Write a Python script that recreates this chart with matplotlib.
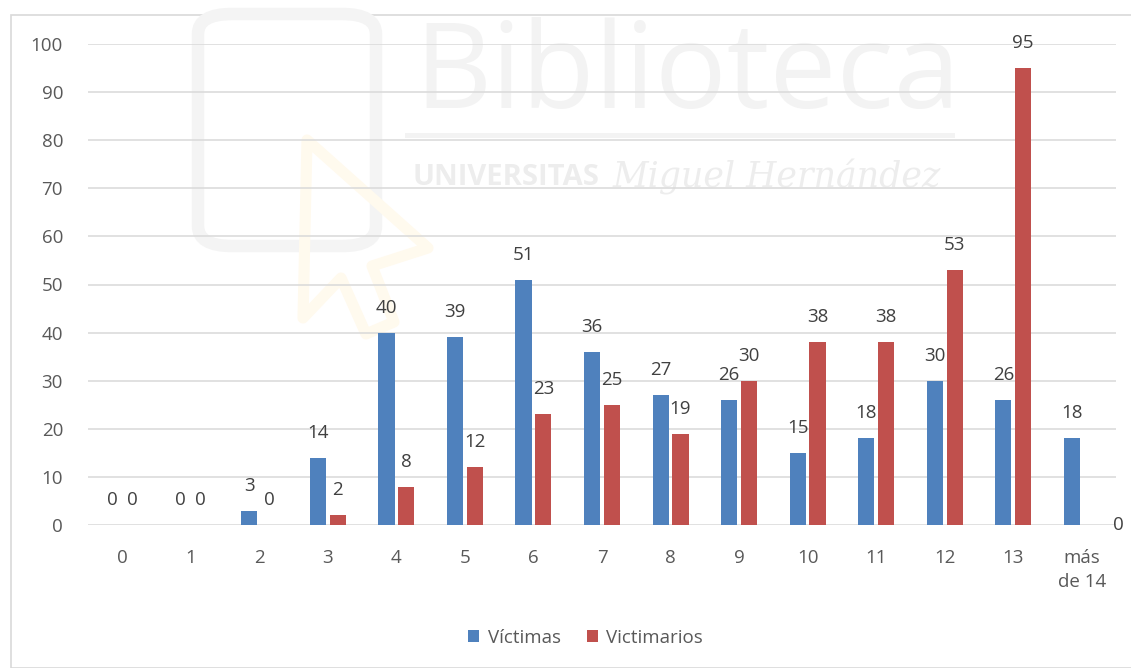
import numpy as np
import matplotlib.pyplot as plt
from matplotlib.patches import Rectangle, FancyBboxPatch, Polygon

plt.rcParams['font.family'] = ['Open Sans', 'DejaVu Sans']

categories = ['0', '1', '2', '3', '4', '5', '6', '7', '8', '9', '10', '11', '12', '13', 'más\nde 14']
victimas = [0, 0, 3, 14, 40, 39, 51, 36, 27, 26, 15, 18, 30, 26, 18]
victimarios = [0, 0, 0, 2, 8, 12, 23, 25, 19, 30, 38, 38, 53, 95, 0]

blue = '#4F81BD'
red = '#C0504D'
txt = '#404040'

W, H = 1131, 668
fig = plt.figure(figsize=(11.31, 6.68), dpi=100)
# chart frame
fig.patches.append(Rectangle((11 / W, 0.0), 1.2, 1 - 15 / H, transform=fig.transFigure,
                             fill=False, edgecolor='#D9D9D9', linewidth=1.2, zorder=0))

# faint watermark (logo of the library)
fig.patches.append(FancyBboxPatch((198 / W, 1 - 246 / H), 178 / W, 232 / H,
                                  boxstyle='round,pad=0,rounding_size=0.03',
                                  transform=fig.transFigure, fill=False,
                                  edgecolor='#F4F4F4', linewidth=9, zorder=0))
cursor = [(307, 140), (303, 318), (341, 278), (366, 334), (394, 322), (372, 266), (428, 248)]
fig.patches.append(Polygon([(px / W, 1 - py / H) for px, py in cursor],
                           closed=True, transform=fig.transFigure, fill=False,
                           edgecolor='#FFFAEE', linewidth=8, joinstyle='round', zorder=0))
fig.patches.append(Rectangle((405 / W, 1 - 138 / H), 550 / W, 5 / H, transform=fig.transFigure,
                             facecolor='#F3F3F3', edgecolor='none', zorder=0))
fig.text(0.608, 1 - 108 / H, 'Biblioteca', fontsize=86, color='#F3F3F3', ha='center',
         va='baseline', zorder=0)
fig.text(0.530, 0.735, 'UNIVERSITAS', fontsize=21, color='#EDEDED', ha='right', va='center',
         fontweight='bold', zorder=0)
fig.text(0.542, 0.735, 'Miguel Hernández', fontsize=25, color='#EDEDED', ha='left', va='center',
         family='DejaVu Serif', style='italic', zorder=0)

ax = fig.add_axes([88 / W, 1 - 525 / H, (1116 - 88) / W, (525 - 44) / H])
ax.patch.set_alpha(0)
ax.set_zorder(2)

x = np.arange(len(categories))
w = 0.235
b1 = ax.bar(x - 0.145, victimas, w, color=blue, zorder=3)
b2 = ax.bar(x + 0.145, victimarios, w, color=red, zorder=3)

for rects, vals, series in ((b1, victimas, 0), (b2, victimarios, 1)):
    for i, (r, v) in enumerate(zip(rects, vals)):
        cx = r.get_x() + r.get_width() / 2
        if series == 1 and i == len(vals) - 1:
            ax.annotate(str(v), (cx, v), xytext=(19, 0), textcoords='offset points',
                        ha='center', va='center', fontsize=13.5, color=txt)
        else:
            ax.annotate(str(v), (cx, v), xytext=(0, 18), textcoords='offset points',
                        ha='center', va='center', fontsize=13.5, color=txt)

ax.set_ylim(0, 100)
ax.set_xlim(-0.5, len(categories) - 0.5)
ax.set_yticks(np.arange(0, 101, 10))
ax.grid(axis='y', color='#D9D9D9', linewidth=1.1, zorder=0)
ax.set_axisbelow(True)
for s in ax.spines.values():
    s.set_visible(False)
ax.set_xticks(x)
ax.set_xticklabels(categories, fontsize=13.5, color='#595959', va='top', linespacing=1.45)
ax.tick_params(axis='x', length=0, pad=17)
ax.tick_params(axis='y', length=0, pad=18, labelsize=13.5, labelcolor='#595959')

ax.legend((b1[0], b2[0]), ('Víctimas', 'Victimarios'), loc='center', bbox_to_anchor=(0.484, -0.235),
          ncol=2, frameon=False, fontsize=13.5, handlelength=0.6, handleheight=0.6,
          columnspacing=1.4, handletextpad=0.45, labelcolor='#595959')

fig.savefig('out.png', dpi=100)
